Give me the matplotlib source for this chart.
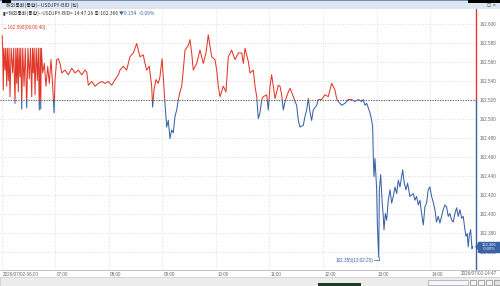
import matplotlib
matplotlib.use('Agg')
import matplotlib.pyplot as plt
from matplotlib.patches import Rectangle, Polygon
import matplotlib.transforms as mtransforms

plt.rcParams['font.family'] = ['Noto Sans CJK KR', 'DejaVu Sans']

# USDJPY bid ticks, minutes after 06:00 (2026/07/02)
t_min = [0.7, 1.3, 2.0, 2.6, 3.9, 4.6, 5.8, 6.5, 7.6, 8.4, 9.5, 10.8, 12.5, 13.6,
         15.1, 16.0, 17.0, 17.8, 18.8, 19.7, 20.7, 21.6, 22.6, 23.8, 25.2, 26.6,
         28.2, 29.6, 31.1, 32.4, 33.8, 34.7, 35.6, 36.5, 37.5, 38.8, 40.1, 41.2,
         42.3, 43.2, 43.9, 44.6,
         46.1, 47.9, 49.8, 51.7, 53.5, 55.4, 57.3, 58.8, 59.9, 61.8, 63.6, 65.5,
         67.4, 71.1, 74.8, 78.6, 82.3, 86.0, 89.8, 93.5, 95.4, 97.2, 101.0, 104.7,
         108.4, 112.2, 115.9, 119.6, 123.4, 127.1, 130.8,
         132.6, 136.3, 140.1, 143.8, 147.6, 151.3, 153.1, 155.0, 158.7, 160.6,
         162.5, 165.4, 168.1, 169.2, 170.7, 172.9, 175.5, 177.4, 179.7, 181.1,
         182.7, 184.9, 186.7, 188.6, 190.5, 192.3, 194.2, 196.1, 197.9, 199.8,
         201.7, 203.5, 205.4, 209.1, 211.0, 212.9, 214.7, 218.5, 222.2, 225.9,
         228.9, 231.5, 233.4, 235.3, 239.0, 240.9, 242.7, 244.6, 248.3, 251.3,
         253.9, 257.6, 261.4, 265.1,
         268.9, 270.7, 272.6, 276.3, 278.2, 281.9, 283.8, 285.7, 287.5, 289.4,
         291.3, 293.1, 296.9, 298.7, 300.6, 302.4, 304.3, 306.2, 309.9, 311.8,
         313.6, 315.5, 317.4, 321.1, 323.0, 326.7, 328.6, 330.4, 332.3, 334.1,
         337.9, 339.7, 341.6, 343.5, 345.3, 347.2, 349.0, 352.8, 354.7, 358.4,
         362.1, 365.8, 369.6, 373.3, 375.2, 377.0, 380.8, 384.5, 388.2, 392.0,
         395.7, 399.4, 403.2,
         405.0, 406.9, 408.8, 410.6, 412.5, 414.4, 415.5, 416.2, 417.0, 418.1,
         419.2, 420.0, 420.7, 422.3, 423.0, 424.5, 426.0, 427.4, 428.2, 429.7,
         431.2, 433.0, 434.9, 436.8, 438.6, 440.5, 442.4, 444.2, 446.1, 448.0,
         449.1, 450.9, 452.8, 454.6, 457.2, 461.0, 462.8, 464.7, 466.6, 468.4,
         470.3, 472.2, 474.0, 475.9, 477.7, 479.6, 481.5, 483.3, 485.2, 487.0,
         488.9, 490.8, 492.7, 494.5, 496.4, 498.3, 500.1, 502.0, 503.9, 505.7,
         507.6, 509.5, 511.3, 513.2, 515.1, 516.9, 518.8, 519.9, 521.4, 522.5,
         523.7, 525.2, 526.7, 527.4]
price = [162.588, 162.575, 162.531, 162.575, 162.552, 162.575, 162.535, 162.575,
         162.541, 162.575, 162.524, 162.575, 162.549, 162.575, 162.517, 162.575,
         162.538, 162.575, 162.529, 162.575, 162.545, 162.575, 162.511, 162.575,
         162.535, 162.575, 162.512, 162.575, 162.543, 162.575, 162.524, 162.575,
         162.549, 162.575, 162.526, 162.575, 162.541, 162.575, 162.510, 162.575,
         162.511, 162.575,
         162.549, 162.559, 162.535, 162.556, 162.538, 162.563, 162.535, 162.507,
         162.542, 162.563, 162.564, 162.559, 162.549, 162.552, 162.547, 162.554,
         162.549, 162.552, 162.547, 162.552, 162.550, 162.536, 162.540, 162.535,
         162.538, 162.540, 162.538, 162.540, 162.536, 162.542, 162.547,
         162.552, 162.556, 162.552, 162.566, 162.570, 162.580, 162.573, 162.566,
         162.568, 162.559, 162.552, 162.556, 162.535, 162.513, 162.531, 162.542,
         162.538, 162.545, 162.564, 162.545, 162.521, 162.492, 162.499, 162.480,
         162.489, 162.486, 162.503, 162.510, 162.521, 162.529, 162.535, 162.552,
         162.573, 162.578, 162.584, 162.570, 162.552, 162.559, 162.573, 162.559,
         162.570, 162.589, 162.577, 162.566, 162.563, 162.552, 162.535, 162.524,
         162.535, 162.529, 162.566, 162.573, 162.563, 162.570,
         162.570, 162.559, 162.575, 162.561, 162.549, 162.552, 162.535, 162.524,
         162.501, 162.507, 162.521, 162.524, 162.526, 162.510, 162.535, 162.547,
         162.535, 162.522, 162.536, 162.535, 162.526, 162.510, 162.519, 162.529,
         162.533, 162.524, 162.519, 162.515, 162.499, 162.492, 162.494, 162.503,
         162.510, 162.522, 162.508, 162.499, 162.510, 162.515, 162.521, 162.521,
         162.526, 162.524, 162.538, 162.531, 162.522, 162.519, 162.515, 162.517,
         162.521, 162.521, 162.519, 162.521, 162.519,
         162.521, 162.515, 162.517, 162.512, 162.507, 162.499, 162.492, 162.461,
         162.440, 162.459, 162.440, 162.426, 162.391, 162.355, 162.426, 162.442,
         162.415, 162.398, 162.384, 162.401, 162.394, 162.415, 162.426, 162.412,
         162.419, 162.429, 162.422, 162.436, 162.429, 162.440, 162.447, 162.433,
         162.426, 162.433, 162.419, 162.422, 162.415, 162.419, 162.410, 162.415,
         162.401, 162.389, 162.408, 162.412, 162.426, 162.429, 162.419, 162.413,
         162.405, 162.392, 162.398, 162.391, 162.398, 162.405, 162.410, 162.408,
         162.398, 162.401, 162.394, 162.392, 162.401, 162.407, 162.398, 162.405,
         162.396, 162.398, 162.384, 162.377, 162.380, 162.366, 162.378, 162.384,
         162.364, 162.366]

prev_close = 162.520
hi_val, hi_time = 162.598, '06:00:40'
lo_t, lo_val, lo_time = 422.3, 162.355, '13:02:20'
last_val, last_time = 162.366, '14:47:26'
chg, chg_pct = 0.154, -0.09
y_ticks = [162.360, 162.380, 162.400, 162.420, 162.440, 162.460, 162.480,
           162.500, 162.520, 162.540, 162.560, 162.580, 162.600]
hour_ticks = [0, 60, 120, 180, 240, 300, 360, 420, 480]
hour_labels = ['2026/07/02-06:00', '07:00', '08:00', '09:00', '10:00',
               '11:00', '12:00', '13:00', '14:00']
end_label = '2026/07/02-14:47'

RED = '#e2382a'
BLUE = '#3a62a6'
GRAY = '#666666'
narrow = ['Liberation Sans', 'DejaVu Sans']

W, H = 500, 286
fig = plt.figure(figsize=(W / 100, H / 100), dpi=100)
fig.patch.set_facecolor('white')

x0, x1 = -1.7, 531.2
y0, y1 = 162.3426, 162.6163
ax = fig.add_axes([0, 17 / H, 476 / W, 260 / H])
ax.set_xlim(x0, x1)
ax.set_ylim(y0, y1)
for s in ax.spines.values():
    s.set_visible(False)

# grid
ax.set_xticks(hour_ticks)
ax.set_yticks(y_ticks)
ax.grid(True, color='#d4d4d4', linestyle=(0, (1, 2)), linewidth=0.6)
ax.tick_params(axis='x', length=0, labelbottom=False)
ax.yaxis.tick_right()
ax.tick_params(axis='y', length=0, pad=2.5, labelsize=3.3, labelcolor=GRAY)
ax.set_yticklabels(['%.3f' % v for v in y_ticks], family=narrow)

# previous close reference line
ax.axhline(prev_close, color='#555555', linestyle=(0, (1, 1.3)), linewidth=0.8, zorder=2)

# price line: red above reference, blue below
up = Rectangle((x0, prev_close), x1 - x0, y1 - prev_close, transform=ax.transData)
dn = Rectangle((x0, y0), x1 - x0, prev_close - y0, transform=ax.transData)
l1, = ax.plot(t_min, price, color=RED, linewidth=0.75, zorder=3)
l1.set_clip_path(up)
l2, = ax.plot(t_min, price, color=BLUE, linewidth=0.75, zorder=3)
l2.set_clip_path(dn)

# right axis line
frac = (prev_close - y0) / (y1 - y0)
ax.axvline(x1, ymin=frac, ymax=1, color=RED, linewidth=1.0, clip_on=False)
ax.axvline(x1, ymin=0, ymax=frac, color=BLUE, linewidth=1.0, clip_on=False)

# x labels
xt = ax.get_xaxis_transform()
for t, lab in zip(hour_ticks, hour_labels):
    ax.text(t + 1.5, -0.01, lab, transform=xt, ha='left', va='top',
            fontsize=3.3, color=GRAY, family=narrow)
fig.text(497 / W, 1 - 271 / H, end_label, ha='right', va='top',
         fontsize=3.3, color=GRAY, family=narrow)

# high / low annotations
fig.text(3 / W, 1 - 27 / H, '\u2190%.3f(%s)' % (hi_val, hi_time), color=RED,
         fontsize=3.3, va='center', ha='left', family=narrow)
ax.plot([lo_t - 5, lo_t], [lo_val - 0.003, lo_val - 0.003], color=BLUE, linewidth=0.5)
ax.plot([lo_t, lo_t], [lo_val - 0.003, lo_val], color=BLUE, linewidth=0.5)
ax.text(lo_t - 5.5, lo_val - 0.003, '%.3f(%s)' % (lo_val, lo_time), color=BLUE,
        fontsize=3.3, ha='right', va='center', family=narrow)

# last price box on the right
bt = mtransforms.blended_transform_factory(fig.transFigure, ax.transData)
ax.add_patch(Rectangle((478 / W, last_val - 0.0052), 22 / W, 0.0104,
                       transform=bt, color=BLUE, clip_on=False, zorder=5))
ax.add_patch(Polygon([(476 / W, last_val), (478.5 / W, last_val + 0.003),
                      (478.5 / W, last_val - 0.003)], transform=bt, color=BLUE,
                     clip_on=False, zorder=5))
ax.text(489 / W, last_val + 0.0022, '%.3f' % last_val, transform=bt, color='white',
        fontsize=3.0, ha='center', va='center', family=narrow, zorder=6)
ax.text(489 / W, last_val - 0.0025, '%.2f%%' % chg_pct, transform=bt, color='white',
        fontsize=3.0, ha='center', va='center', family=narrow, zorder=6)

# title bar
fig.patches.append(Rectangle((0, 1 - 9 / H), 1, 9 / H, transform=fig.transFigure,
                             facecolor='#dce6f2', edgecolor='none', zorder=0))
fig.patches.append(Rectangle((0, 1 - 1.2 / H), 1, 1.2 / H, transform=fig.transFigure,
                             facecolor='#6f8fb8', edgecolor='none', zorder=1))
fig.patches.append(Rectangle((2 / W, 1 - 3 / H), 9 / W, 3 / H, transform=fig.transFigure,
                             facecolor='black', edgecolor='none', zorder=2))
fig.patches.append(Rectangle((468 / W, 1 - 3 / H), 32 / W, 3 / H, transform=fig.transFigure,
                             facecolor='black', edgecolor='none', zorder=2))
fig.text(6 / W, 1 - 4.8 / H, '해외통화(통합)--USDJPY-BID (틱)', fontsize=3.6,
         color='#333333', va='center', ha='left')
fig.text(496 / W, 1 - 5 / H, '□ ×', fontsize=3.2, color='#333333',
         va='center', ha='right', family=['DejaVu Sans'])

# info line
info_y = 1 - 13 / H
t1 = fig.text(3 / W, info_y, '▮<해외통화(통합)--USDJPY-BID> %s 종:%.3f ' % (last_time, last_val),
              fontsize=3.5, color='#333333', va='center', ha='left')
fig.canvas.draw()
bb = t1.get_window_extent()
fig.text(bb.x1 / W, info_y, '▼%.3f  %.2f%%' % (chg, chg_pct), fontsize=3.5,
         color=BLUE, va='center', ha='left')

# bottom axis line and scroll bar
fig.add_artist(plt.Line2D([0, 1], [1 - 270 / H, 1 - 270 / H], transform=fig.transFigure,
                          color='#b8b8b8', linewidth=0.6))
fig.patches.append(Rectangle((0, 0), 1, 9 / H, transform=fig.transFigure,
                             facecolor='#ececec', edgecolor='#c8c8c8', linewidth=0.5))
fig.patches.append(Rectangle((318 / W, 0), 43 / W, 3 / H, transform=fig.transFigure,
                             facecolor='#1e3b27', edgecolor='none'))
fig.patches.append(Rectangle((428 / W, 1.5 / H), 40 / W, 5 / H, transform=fig.transFigure,
                             facecolor='#f6f6f6', edgecolor='#9aa5b5', linewidth=0.5))
for bx in [470, 478, 486]:
    fig.patches.append(Rectangle((bx / W, 1.5 / H), 6 / W, 5 / H, transform=fig.transFigure,
                                 facecolor='#f6f6f6', edgecolor='#8a8a8a', linewidth=0.5))
fig.patches.append(Rectangle((494 / W, 1.5 / H), 6 / W, 5 / H, transform=fig.transFigure,
                             facecolor='#e0e0e0', edgecolor='#8a8a8a', linewidth=0.5))

fig.savefig('out.png', dpi=100)
